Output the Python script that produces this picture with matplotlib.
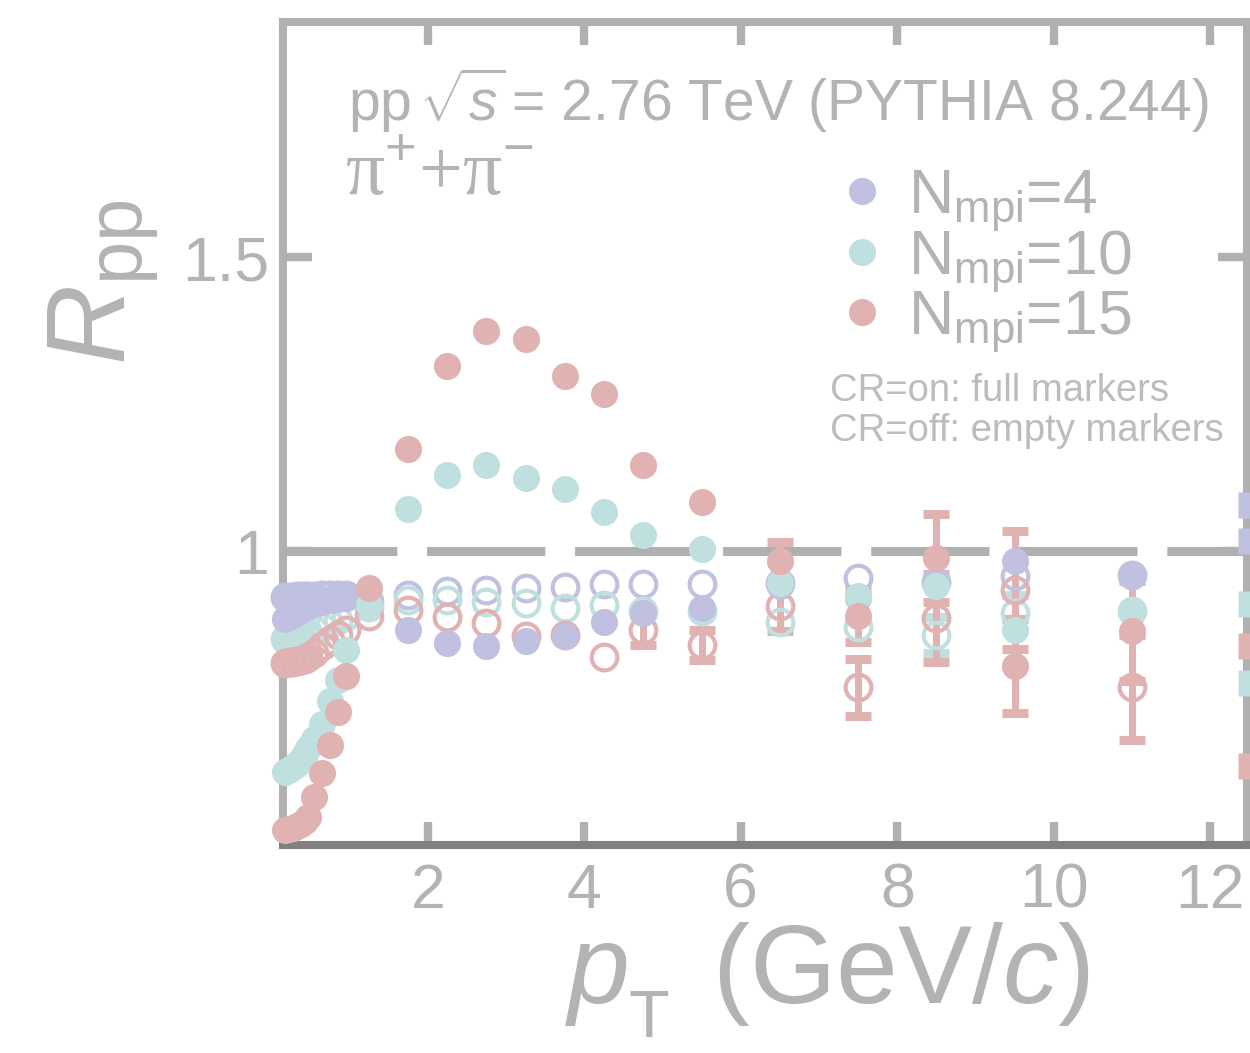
import numpy as np
import matplotlib
matplotlib.use('Agg')
import matplotlib.pyplot as plt

'''
R_pp of pi+ + pi- for three N_mpi settings, CR on (full) / off (empty).
'''

pt = [0.175, 0.225, 0.275, 0.325, 0.375, 0.425, 0.475, 0.55, 0.65, 0.75, 0.85, 0.95, 1.25,
      1.75, 2.25, 2.75, 3.25, 3.75, 4.25, 4.75, 5.5, 6.5, 7.5, 8.5, 9.5, 11.0]

mpi4_on = [0.885, 0.888, 0.892, 0.896, 0.9, 0.904, 0.907, 0.91, 0.914, 0.917, 0.919, 0.921, 0.91,
           0.866, 0.844, 0.839, 0.847, 0.856, 0.88, 0.895, 0.903, 0.94, 0.92, 0.942, 0.983, 0.958]
mpi4_off = [0.922, 0.922, 0.922, 0.923, 0.923, 0.923, 0.924, 0.924, 0.925, 0.925, 0.925, 0.925, 0.915,
            0.925, 0.932, 0.934, 0.937, 0.939, 0.944, 0.944, 0.944, 0.945, 0.954, 0.948, 0.958, 0.96]
mpi10_on = [0.625, 0.628, 0.632, 0.638, 0.645, 0.655, 0.665, 0.68, 0.705, 0.745, 0.78, 0.832, 0.908,
            1.071, 1.129, 1.146, 1.125, 1.105, 1.066, 1.027, 1.003, 0.946, 0.924, 0.94, 0.866, 0.895]
mpi10_off = [0.85, 0.851, 0.852, 0.854, 0.856, 0.858, 0.861, 0.865, 0.87, 0.876, 0.882, 0.89, 0.905,
             0.917, 0.917, 0.914, 0.912, 0.903, 0.908, 0.898, 0.898, 0.88, 0.87, 0.857, 0.895, 0.898]
mpi15_on = [0.525, 0.527, 0.529, 0.532, 0.536, 0.541, 0.547, 0.581, 0.622, 0.67, 0.726, 0.788, 0.937,
            1.173, 1.314, 1.375, 1.361, 1.297, 1.268, 1.146, 1.083, 0.983, 0.89, 0.988, 0.805, 0.864]
mpi15_off = [0.81, 0.811, 0.812, 0.813, 0.815, 0.817, 0.819, 0.826, 0.838, 0.848, 0.858, 0.866, 0.889,
             0.9, 0.888, 0.878, 0.856, 0.858, 0.82, 0.866, 0.84, 0.907, 0.768, 0.886, 0.934, 0.768]

# statistical errors (only the visible ones, rest 0)
mpi15_on_err = [0]*19 + [0.0, 0.0, 0.032, 0.045, 0.075, 0.08, 0.085]
mpi15_off_err = [0]*19 + [0.025, 0.026, 0.043, 0.048, 0.075, 0.1, 0.09]
mpi10_off_err = [0]*23 + [0.03, 0.03, 0.0]

# markers of the neighbouring panel peeking in at the right edge
edge_pt = 12.52
edge_mpi4 = [1.078, 1.017]
edge_mpi10 = [0.91, 0.776]
edge_mpi15 = [0.839, 0.634]

labels = [r'N$_{\mathrm{mpi}}$=4', r'N$_{\mathrm{mpi}}$=10', r'N$_{\mathrm{mpi}}$=15']
xticks = [2, 4, 6, 8, 10, 12]
yticks = [1, 1.5]

c4 = '#c0c0e0'
c10 = '#c0e0e0'
c15 = '#e0b2b2'
grey = '#b3b3b3'

plt.rcParams['font.family'] = ['Liberation Sans', 'DejaVu Sans']
plt.rcParams['mathtext.fontset'] = 'custom'
plt.rcParams['mathtext.rm'] = 'Liberation Sans'
plt.rcParams['mathtext.it'] = 'Liberation Sans:italic'
plt.rcParams['mathtext.bf'] = 'Liberation Sans:bold'

W, H = 1250, 1053
fig = plt.figure(figsize=(W/100., H/100.), dpi=100)
ax = fig.add_axes([283./W, 1-845./H, (1247.-283.)/W, (845.-22.)/H])
ax.set_xlim(0.15, 12.47)
ax.set_ylim(0.5, 1.9)

ax.axhline(1, color='#b0b0b0', lw=6.5, ls=(0.5, (13.1, 3.3)), zorder=1)

pt = np.array(pt)

def draw_err(vals, errs, color):
    vals = np.array(vals)
    errs = np.array(errs)
    m = errs > 0
    if m.any():
        ax.errorbar(pt[m], vals[m], yerr=errs[m], fmt='none', ecolor=color,
                    elinewidth=5, capsize=9.5, capthick=6.5, clip_on=False, zorder=2)

draw_err(mpi10_off, mpi10_off_err, c10)
draw_err(mpi15_off, mpi15_off_err, c15)
draw_err(mpi15_on, mpi15_on_err, c15)

ms = 19.5
for vals, col in [(mpi4_off, c4), (mpi10_off, c10), (mpi15_off, c15)]:
    ax.plot(pt, vals, 'o', ms=ms-1, mfc='none', mec=col, mew=3, ls='none',
            clip_on=False, zorder=3)
handles = []
for vals, col in [(mpi4_on, c4), (mpi10_on, c10), (mpi15_on, c15)]:
    h, = ax.plot(pt, vals, 'o', ms=ms, mfc=col, mec='none', ls='none',
                 clip_on=False, zorder=4)
    handles.append(h)

for vals, col in [(edge_mpi4, c4), (edge_mpi10, c10), (edge_mpi15, c15)]:
    ax.plot([edge_pt]*len(vals), vals, 's', ms=19, mfc=col, mec='none',
            ls='none', clip_on=False, zorder=4)

for side in ['left', 'top', 'right']:
    ax.spines[side].set_color('#b0b0b0')
    ax.spines[side].set_linewidth(5.8)
ax.spines['bottom'].set_color('#808080')
ax.spines['bottom'].set_linewidth(5.8)

ax.set_xticks(xticks)
ax.set_yticks(yticks)
ax.set_yticklabels(['1', '1.5'])
ax.tick_params(axis='x', direction='in', length=16.5, width=6, color='#b0b0b0',
               top=True, labelsize=45, labelcolor=grey, pad=12)
ax.tick_params(axis='y', direction='in', length=21, width=6, color='#b0b0b0',
               right=True, labelsize=45, labelcolor=grey, pad=10)

# x title, ROOT style with a low subscript
fig.text(565./W, 1-1003./H, r'$p$', fontsize=80, color=grey, ha='left', va='baseline')
fig.text(629./W, 1-1051./H, 'T', fontsize=48, color=grey, ha='left', va='bottom')
fig.text(712./W, 1-1003./H, r'(GeV/$c$)', fontsize=80, color=grey, ha='left', va='baseline')

fig.text(104./W, 1-282./H, r'$R_{\mathrm{pp}}$', fontsize=80, color=grey,
         rotation=90, ha='center', va='center')

fig.text(348./W, 1-121./H, r'pp $\!\sqrt{s}\!$ = 2.76 TeV (PYTHIA 8.244)',
         fontsize=41, color=grey, ha='left', va='baseline')
fig.text(345./W, 1-195./H, r'π$^{+}$+π$^{-}$', fontsize=56, color=grey,
         family=['Liberation Serif', 'DejaVu Serif'], ha='left', va='baseline')

leg = ax.legend(handles, labels, loc='upper left',
                bbox_to_anchor=(846./W, 1-167./H), bbox_transform=fig.transFigure,
                frameon=False, fontsize=45, handlelength=0.5, handletextpad=0.5,
                labelspacing=-0.1, borderpad=0, borderaxespad=0, labelcolor=grey)

fig.text(830./W, 1-401./H, 'CR=on: full markers', fontsize=27.5, color='#bcbcbc',
         ha='left', va='baseline')
fig.text(830./W, 1-441./H, 'CR=off: empty markers', fontsize=27.5, color='#bcbcbc',
         ha='left', va='baseline')

fig.savefig('out.png', dpi=100)
